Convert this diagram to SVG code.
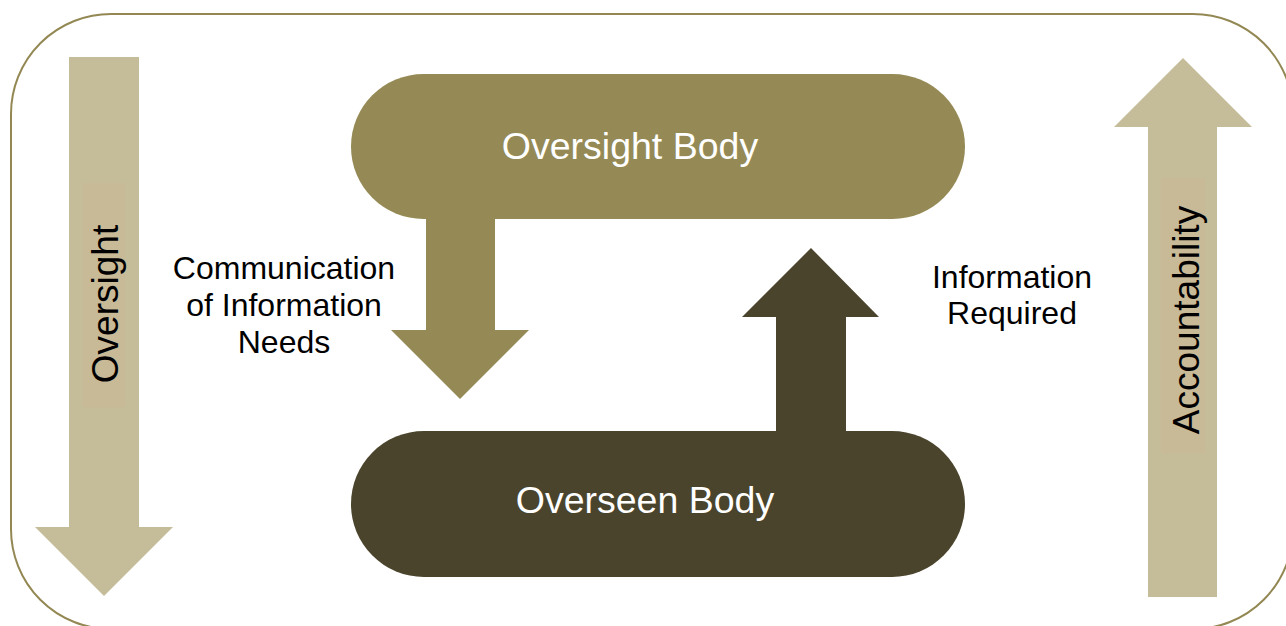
<svg xmlns="http://www.w3.org/2000/svg" width="1286" height="626" viewBox="0 0 1286 626">
  <style>
    .frame { fill: #ffffff; stroke: #938853; stroke-width: 2; }
    .side { fill: #c5bd99; }
    .tag { fill: #c8b997; }
    .light { fill: #958a55; }
    .dark { fill: #4a442c; }
    .title { font-family: "Liberation Sans", Arial, sans-serif; font-size: 37.5px; fill: #ffffff; text-anchor: middle; }
    .lbl { font-family: "Liberation Sans", Arial, sans-serif; font-size: 32px; fill: #000000; text-anchor: middle; }
    .vlbl { font-family: "Liberation Sans", Arial, sans-serif; font-size: 37px; fill: #000000; text-anchor: middle; }
  </style>
  <rect class="frame" x="11" y="14" width="1282" height="615" rx="100" ry="100"/>

  <g id="oversight-arrow">
    <polygon class="side" points="69,57 139,57 139,527 173,527 104,596 35,527 69,527"/>
    <rect class="tag" x="83" y="183" width="42" height="224"/>
    <text class="vlbl" transform="translate(118,304) rotate(-90)">Oversight</text>
  </g>

  <g id="accountability-arrow">
    <polygon class="side" points="1148,597 1217,597 1217,127 1252,127 1183,58 1114,127 1148,127"/>
    <rect class="tag" x="1161" y="178" width="44" height="275"/>
    <text class="vlbl" transform="translate(1199,320) rotate(-90)">Accountability</text>
  </g>

  <g id="connectors">
    <polygon class="light" points="426,200 495,200 495,330 529,330 460,399 391,330 426,330"/>
    <polygon class="dark" points="776,440 846,440 846,317 879,317 811,248 742,317 776,317"/>
    <text class="lbl" x="284" y="279">Communication</text>
    <text class="lbl" x="284" y="316">of Information</text>
    <text class="lbl" x="284" y="353">Needs</text>
    <text class="lbl" x="1012" y="288">Information</text>
    <text class="lbl" x="1012" y="324">Required</text>
  </g>

  <g id="oversight-body">
    <rect class="light" x="351" y="74" width="614" height="145" rx="72.5" ry="72.5"/>
    <text class="title" x="630" y="159">Oversight Body</text>
  </g>

  <g id="overseen-body">
    <rect class="dark" x="351" y="431" width="614" height="146" rx="73" ry="73"/>
    <text class="title" x="645" y="513">Overseen Body</text>
  </g>
</svg>
